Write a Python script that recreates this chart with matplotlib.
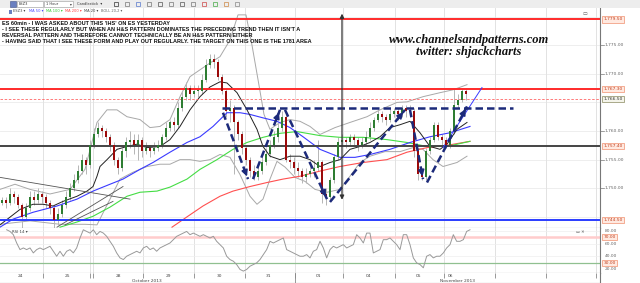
import matplotlib.pyplot as plt
import numpy as np

# ES 60min candles (x = bar index, ~4px per bar)
first_open = 1747.5
closes = [1748.0, 1747.5, 1749.0, 1748.5, 1747.0, 1745.0, 1746.5, 1748.5, 1748.0, 1749.0,
          1748.5, 1747.5, 1746.5, 1744.5, 1745.5, 1747.0, 1748.5, 1750.0, 1751.5, 1753.0,
          1755.0, 1754.0, 1757.5, 1759.5, 1760.5, 1760.0, 1759.0, 1757.5, 1755.0, 1753.5,
          1756.5, 1758.0, 1758.5, 1757.5, 1758.5, 1756.5, 1757.0, 1756.5, 1757.0, 1757.5,
          1759.0, 1760.5, 1761.5, 1761.0, 1764.0, 1766.0, 1767.5, 1766.5, 1767.0, 1767.0,
          1769.0, 1771.5, 1772.5, 1772.0, 1769.5, 1767.0, 1763.5, 1764.0, 1761.5, 1759.5,
          1757.0, 1755.0, 1753.0, 1752.0, 1753.0, 1754.5, 1756.0, 1757.5, 1759.0, 1760.5,
          1762.5, 1755.0, 1754.5, 1753.5, 1753.0, 1752.0, 1752.5, 1753.0, 1753.5, 1754.5,
          1749.0, 1748.5, 1751.5, 1755.5, 1758.0, 1758.5, 1758.0, 1759.0, 1758.5, 1757.5,
          1758.0, 1759.0, 1760.5, 1762.0, 1763.0, 1762.5, 1762.0, 1763.0, 1763.5, 1763.0,
          1764.0, 1763.5, 1763.5, 1756.5, 1752.5, 1752.0, 1756.5, 1758.5, 1761.0, 1759.0,
          1758.5, 1757.5, 1760.0, 1764.5, 1765.5, 1767.0, 1766.5]
highs = [1748.5, 1748.5, 1750.0, 1749.5, 1749.0, 1747.5, 1747.5, 1749.5, 1749.5, 1750.0,
         1749.5, 1749.0, 1748.0, 1747.0, 1746.5, 1748.0, 1749.5, 1751.0, 1752.5, 1754.0,
         1756.0, 1755.5, 1758.5, 1760.5, 1761.5, 1761.0, 1760.5, 1759.5, 1758.0, 1755.5,
         1757.0, 1759.0, 1760.0, 1759.5, 1759.5, 1759.0, 1758.0, 1757.5, 1758.0, 1758.5,
         1759.5, 1761.5, 1762.0, 1762.5, 1765.0, 1767.0, 1768.5, 1768.0, 1768.0, 1768.0,
         1770.0, 1772.5, 1773.5, 1773.5, 1772.5, 1770.0, 1767.5, 1765.5, 1764.5, 1762.0,
         1760.0, 1757.5, 1755.5, 1754.0, 1754.0, 1755.5, 1757.0, 1758.5, 1760.0, 1761.5,
         1763.5, 1763.0, 1756.0, 1755.5, 1754.5, 1753.5, 1753.5, 1754.0, 1755.0, 1758.5,
         1755.0, 1750.0, 1752.0, 1756.0, 1759.0, 1759.5, 1759.0, 1759.5, 1759.5, 1759.0,
         1759.0, 1760.0, 1761.5, 1762.5, 1764.0, 1763.5, 1763.0, 1764.0, 1764.0, 1764.0,
         1764.5, 1764.5, 1764.5, 1764.0, 1757.0, 1753.5, 1757.0, 1759.0, 1761.5, 1761.5,
         1759.5, 1759.0, 1760.5, 1767.5, 1766.5, 1767.5, 1767.5]
lows = [1747.0, 1746.5, 1747.0, 1747.5, 1746.5, 1743.0, 1744.5, 1746.0, 1747.0, 1747.5,
        1747.5, 1746.5, 1745.5, 1743.0, 1743.5, 1745.0, 1746.5, 1748.0, 1749.5, 1751.0,
        1752.5, 1752.5, 1753.5, 1757.0, 1759.0, 1759.0, 1758.0, 1756.5, 1754.0, 1752.5,
        1753.0, 1755.5, 1757.0, 1756.0, 1755.0, 1755.5, 1756.0, 1755.5, 1756.0, 1756.5,
        1757.0, 1758.5, 1760.0, 1760.0, 1760.5, 1763.5, 1765.5, 1765.5, 1766.0, 1766.0,
        1766.5, 1768.5, 1771.0, 1771.0, 1769.0, 1766.5, 1762.5, 1761.5, 1752.5, 1758.5,
        1756.0, 1754.0, 1752.0, 1751.5, 1751.5, 1752.5, 1754.0, 1755.5, 1757.0, 1758.0,
        1760.0, 1754.5, 1753.5, 1752.5, 1752.0, 1751.0, 1751.0, 1752.0, 1752.0, 1753.0,
        1747.5, 1747.0, 1748.0, 1751.0, 1755.0, 1757.5, 1757.0, 1757.5, 1757.5, 1756.5,
        1757.0, 1757.5, 1758.5, 1760.0, 1761.5, 1761.5, 1761.0, 1761.5, 1762.5, 1762.0,
        1762.5, 1762.5, 1762.5, 1755.5, 1751.5, 1751.5, 1751.5, 1756.0, 1758.0, 1758.5,
        1757.5, 1757.0, 1757.0, 1759.5, 1764.0, 1765.0, 1765.5]

# indicator lines sampled off the chart (x in bar units)
ma20_x = [0, 5, 8.25, 10.75, 13.25, 15.75, 19.25, 21.75, 23.25, 24.25, 25, 26.75, 29.25, 31.75,
          34.25, 36.75, 40, 42.5, 45, 47.5, 50, 52.5, 55, 56.75, 59.25, 61.75, 64.25, 65.75,
          67.5, 70, 72.5, 75, 77.5, 80, 82.5, 85, 87.5, 90, 92.5, 95, 97.5, 100, 102.5, 105,
          107.5, 110, 111.75, 114.25, 116.75]
ma20_y = [1743.6, 1746.3, 1747.2, 1747.2, 1746.9, 1747.7, 1748.6, 1749.5, 1750.3, 1752.1, 1753.8,
          1755.0, 1756.8, 1757.3, 1757.7, 1757.1, 1757.3, 1758.5, 1760.8, 1763.7, 1766.0, 1767.7,
          1768.6, 1768.4, 1766.7, 1763.7, 1760.3, 1757.3, 1755.6, 1755.0, 1755.6, 1755.6, 1755.0,
          1753.8, 1754.5, 1755.0, 1756.8, 1757.3, 1758.0, 1759.0, 1760.6, 1761.1, 1761.7, 1759.7,
          1757.3, 1756.8, 1757.7, 1760.3, 1761.5]
ma50_x = [0, 3.25, 8.25, 14.25, 19.25, 23.25, 27.5, 30.75, 35, 38.25, 42.5, 46.75, 50, 53.25,
          55, 56.75, 60, 62.5, 65.75, 69.25, 72.5, 75.75, 80, 85, 88.75, 92.5, 97.5, 102.5,
          107.5, 112.5, 117.5]
ma50_y = [1743.2, 1744.6, 1745.8, 1746.9, 1748.1, 1749.5, 1750.7, 1751.6, 1753.3, 1754.5, 1756.3,
          1758.0, 1759.0, 1760.8, 1762.0, 1763.2, 1763.2, 1762.9, 1762.3, 1761.7, 1760.6, 1759.0,
          1756.8, 1755.4, 1755.4, 1755.9, 1756.8, 1758.0, 1759.0, 1759.7, 1760.8]
ma100_x = [15, 19.25, 23.25, 27.5, 31.75, 35, 39.25, 42.5, 46.75, 50, 54.25, 58.25, 61.75,
           65.75, 70, 74.25, 80, 85, 90.75, 96.75, 101.75, 106.75, 111.75, 117.5]
ma100_y = [1743.2, 1744.1, 1745.1, 1746.7, 1748.6, 1749.3, 1749.5, 1750.2, 1751.6, 1753.3, 1755.0,
           1756.8, 1758.0, 1758.9, 1759.6, 1759.9, 1759.2, 1758.9, 1758.9, 1758.5, 1758.0, 1757.3,
           1757.3, 1758.2]
ma200_x = [43, 46.75, 50.75, 55, 58.25, 62.5, 66.75, 70.75, 75, 80, 85, 90.75, 96.75, 101.75,
           106.75, 111.75, 117.5]
ma200_y = [1743.2, 1745.0, 1746.9, 1748.6, 1749.5, 1750.3, 1751.0, 1751.6, 1752.1, 1753.0, 1753.8,
           1754.5, 1755.0, 1756.3, 1757.1, 1757.5, 1758.2]
bb_up_x = [0, 3.75, 7.5, 12.5, 17.5, 21.25, 24.25, 26.75, 29.25, 31.75, 35, 37.5, 40, 42.5, 45,
           47.5, 50, 52.5, 55, 57.5, 59.5, 61.5, 63, 64.5, 66, 67.5, 70, 72.5, 75, 77.5, 80,
           83.75, 87.5, 91.75, 95, 99.25, 101.75, 105.75, 110, 113.25, 116.75]
bb_up_y = [1749.8, 1750.7, 1749.8, 1749.0, 1749.8, 1753.3, 1761.5, 1763.7, 1763.7, 1762.5, 1762.0,
           1760.6, 1760.8, 1762.0, 1766.0, 1769.5, 1770.7, 1771.9, 1773.0, 1775.9, 1780.3, 1780.3,
           1775.0, 1769.0, 1762.9, 1760.3, 1761.5, 1762.0, 1761.7, 1760.8, 1759.4, 1760.6, 1761.5,
           1762.5, 1763.7, 1765.0, 1765.1, 1766.0, 1766.7, 1767.2, 1768.1]
bb_lo_x = [0, 7.5, 15, 21.25, 24.25, 27.5, 30, 33.25, 36.75, 40, 42.5, 45, 47.5, 50, 52.5, 55,
           57.5, 60, 62.5, 64.25, 65.75, 67.5, 69.25, 71.25, 73.75, 76.25, 78.75, 81.75, 85,
           87.5, 90, 92.5, 96.25, 100, 103.25, 105.75, 108.25, 110.75, 114.25, 116.75]
bb_lo_y = [1743.7, 1744.3, 1743.7, 1743.7, 1743.6, 1748.1, 1751.6, 1752.8, 1753.8, 1754.2, 1754.2,
           1755.0, 1755.0, 1754.7, 1755.0, 1755.9, 1755.4, 1752.4, 1748.6, 1747.2, 1748.1, 1751.6,
           1754.7, 1753.7, 1751.9, 1751.2, 1749.8, 1749.3, 1749.8, 1752.1, 1754.5, 1755.6, 1756.4,
           1756.4, 1757.1, 1756.8, 1755.0, 1753.8, 1754.5, 1755.6]

# RSI 14, one sample every 5/6 bar
rsi = [81.9, 79.3, 74.2, 61.2, 50.8, 53.4, 50.8, 53.4, 45.6, 50.8,
       53.4, 50.8, 53.4, 56.0, 48.2, 40.4, 48.2, 40.4, 48.2, 50.8,
       45.6, 53.4, 69.0, 81.9, 79.3, 76.7, 81.9, 74.2, 79.3, 76.7,
       71.6, 63.8, 56.0, 45.6, 37.8, 35.2, 40.4, 43.0, 45.6, 48.2,
       45.6, 53.4, 56.0, 50.8, 53.4, 48.2, 53.4, 56.0, 58.6, 61.2,
       66.4, 71.6, 74.2, 76.7, 79.3, 74.2, 76.7, 74.2, 71.6, 74.2,
       71.6, 69.0, 71.6, 63.8, 58.6, 53.4, 40.4, 35.2, 32.6, 27.4,
       19.7, 17.1, 19.7, 24.8, 27.4, 30.0, 35.2, 43.0, 50.8, 63.8,
       61.2, 63.8, 66.4, 69.0, 50.8, 48.2, 45.6, 43.0, 40.4, 40.4,
       43.0, 37.8, 48.2, 50.8,
       63.8, 53.4, 37.8, 50.8, 56.0, 53.4, 56.0, 58.6, 53.4, 56.0,
       58.6, 74.2, 69.0, 61.2, 76.7, 76.7, 45.6, 48.2, 50.8, 66.4,
       66.4, 69.0, 63.8, 58.6, 50.8, 74.2, 74.2, 58.6, 37.8, 30.0,
       27.4, 22.3, 40.4, 43.0, 37.8, 40.4, 40.4, 45.6, 53.4, 58.6,
       74.2, 63.8, 63.8, 66.4, 79.3, 81.9]

# horizontal levels
levels = [1779.5, 1767.3, 1757.4, 1744.5]
level_colors = ['#ff2a2a', '#ff2a2a', '#444444', '#2a3cff']
last_price = 1766.5
neckline = 1764.0

# H&S swing arrows: start / end
hs_x0 = [55.75, 63.25, 71.25, 82.5, 102.5, 106.75]
hs_y0 = [1763.2, 1751.6, 1763.7, 1747.6, 1763.7, 1751.0]
hs_x1 = [62.0, 70.0, 81.75, 101.25, 105.75, 116.75]
hs_y1 = [1751.6, 1763.7, 1748.1, 1763.7, 1751.6, 1764.3]

# day separators and labels
day_edges = [10.75, 22.5, 23.25, 35.75, 48.5, 61.25, 73.75, 85.75, 98.75, 111, 123.75, 136.5, 149]
day_labels = ['24', '25', '28', '29', '30', '31', '01', '04', '05', '06']
day_label_x = [5, 16.75, 29.5, 42, 54.75, 67, 79.5, 92, 104.75, 112.5]

W, H = 640, 283
fig = plt.figure(figsize=(6.4, 2.83), dpi=100)
fig.patch.set_facecolor('white')


def fy(y):
    return 1 - y / H


top, mid, bot = 8, 228.3, 272.7
ax = fig.add_axes([0, fy(mid), 600 / W, (mid - top) / H])
rax = fig.add_axes([0, fy(bot), 600 / W, (bot - mid) / H], sharex=ax)
dax = fig.add_axes([0, 0, 600 / W, fy(bot)], sharex=ax)

for a in (ax, rax, dax):
    a.set_xlim(0, 150)
    a.tick_params(left=False, bottom=False, labelleft=False, labelbottom=False,
                  right=False, labelright=False)
    for s in ('left', 'top'):
        a.spines[s].set_visible(False)
    for s in ('right', 'bottom'):
        a.spines[s].set_color('#777777')
        a.spines[s].set_linewidth(0.8)
ax.set_ylim(1743.0, 1781.5)
rax.set_ylim(14.6, 84.2)
dax.set_ylim(0, 1)

# grid
for p in range(1745, 1781, 5):
    ax.axhline(p, color='#ebebeb', lw=0.6, zorder=0)
for a in (ax, rax):
    for e in day_edges:
        a.axvline(e, color='#e2e2e2', lw=0.7, zorder=0)

# candles
x = np.arange(len(closes)) + 0.5
opens = np.array([first_open] + closes[:-1])
c = np.array(closes)
ax.vlines(x, lows, highs, color='#b5b5b5', lw=0.7, zorder=2)
up = c >= opens
body = np.maximum(np.abs(c - opens), 0.15)
ax.bar(x[up], body[up], bottom=np.minimum(opens, c)[up], width=0.45, color='#2e7d32', zorder=3)
ax.bar(x[~up], body[~up], bottom=np.minimum(opens, c)[~up], width=0.45, color='#9b0a0a', zorder=3)

# indicators
ax.plot(bb_up_x, bb_up_y, color='#a8a8a8', lw=0.7, zorder=1)
ax.plot(bb_lo_x, bb_lo_y, color='#a8a8a8', lw=0.7, zorder=1)
ax.plot(ma200_x, ma200_y, color='#ff5050', lw=0.8, zorder=2)
ax.plot(ma100_x, ma100_y, color='#44dd44', lw=0.8, zorder=2)
ax.plot(ma50_x, ma50_y, color='#3a3aff', lw=0.8, zorder=2)
ax.plot(ma20_x, ma20_y, color='#222222', lw=0.7, zorder=2)

# levels
for lv, col in zip(levels, level_colors):
    ax.axhline(lv, color=col, lw=1.4, zorder=2)
ax.axhline(last_price - 0.9, color='#ff6666', lw=0.6, ls=(0, (3, 2)), zorder=2)

# trendlines
ax.plot([0, 32.5], [1751.9, 1748.1], color='#555555', lw=0.6, zorder=2)
ax.plot([14.25, 30.75], [1743.2, 1750.3], color='#555555', lw=0.6, zorder=2)
ax.plot([16.25, 28.25], [1743.6, 1747.7], color='#555555', lw=0.6, zorder=2)
ax.plot([110.75, 120.5], [1757.1, 1767.6], color='#3a3aff', lw=0.7, zorder=2)

# neckline and swing arrows
navy = '#1c2a7a'
ax.plot([55.5, 128.25], [neckline, neckline], color=navy, lw=1.8, ls=(0, (3, 1.6)), zorder=5)
for x0, y0, x1, y1 in zip(hs_x0, hs_y0, hs_x1, hs_y1):
    ax.plot([x0, x1], [y0, y1], color=navy, lw=1.8, ls=(0, (3, 1.6)), zorder=5)
    ax.annotate('', xy=(x1, y1), xytext=(x1 - 0.15 * (x1 - x0), y1 - 0.15 * (y1 - y0)),
                arrowprops=dict(arrowstyle='-|>', color=navy, lw=1.2, mutation_scale=9),
                zorder=6)

# target arrow
ax.annotate('', xy=(85.5, 1781.0), xytext=(85.5, 1747.5),
            arrowprops=dict(arrowstyle='<|-|>', color='#333333', lw=0.9, mutation_scale=6),
            zorder=6)

# right axis labels
ylab = ax.get_yaxis_transform()
for p in [1775, 1770, 1760, 1755, 1750]:
    ax.text(1.008, p, f'{p:,.2f}', transform=ylab, fontsize=3.2, color='#666666',
            va='center', ha='left', clip_on=False)
    ax.plot([1.0, 1.006], [p, p], transform=ylab, color='#777777', lw=0.5, clip_on=False)
for lv, ypos in zip(levels, [1779.5, 1767.3, 1757.4, 1744.5]):
    ax.text(1.006, ypos, f'{lv:,.2f}', transform=ylab, fontsize=3.2, color='#c04020',
            va='center', ha='left', clip_on=False,
            bbox=dict(boxstyle='square,pad=0.25', fc='#ffe9e0', ec='#f09070', lw=0.5))
ax.text(1.006, last_price - 0.9, f'{last_price:,.2f}', transform=ylab, fontsize=3.2,
        color='#333333', va='center', ha='left', clip_on=False,
        bbox=dict(boxstyle='square,pad=0.25', fc='#f4f4ea', ec='#8a8a60', lw=0.5))

# RSI
rx = (20 + 10 * np.arange(len(rsi))) / 12
rax.axhline(70, color='#ffcccc', lw=1.8, zorder=1)
rax.axhline(30, color='#90c090', lw=0.9, zorder=1)
for v in (40, 60, 80):
    rax.axhline(v, color='#eeeeee', lw=0.5, zorder=0)
rax.plot(rx, rsi, color='#999999', lw=0.7, zorder=2)
rylab = rax.get_yaxis_transform()
for v in [80, 60, 40, 20]:
    rax.text(1.008, v, f'{v:.2f}', transform=rylab, fontsize=3.2, color='#666666',
             va='center', ha='left', clip_on=False)
for v in [70, 30]:
    rax.text(1.006, v, f'{v:.2f}', transform=rylab, fontsize=3.2, color='#c04020',
             va='center', ha='left', clip_on=False,
             bbox=dict(boxstyle='square,pad=0.25', fc='#ffe9e0', ec='#f09070', lw=0.5))
rax.text(0.02, 0.96, 'RSI 14 \u25be', transform=rax.transAxes, fontsize=2.8, color='#444444',
         va='top', ha='left')
rax.text(0.975, 0.96, '\u25ad \u2715', transform=rax.transAxes, fontsize=3, color='#555555',
         va='top', ha='right')
ax.text(0.978, 0.985, '\u25ad', transform=ax.transAxes, fontsize=3.5, color='#555555',
        va='top', ha='right')

# date axis
dax.vlines(day_edges, 0.45, 1, color='#888888', lw=0.6)
dax.axvline(73.75, color='#888888', lw=0.6)
for lab, lx in zip(day_labels, day_label_x):
    dax.text(lx, 0.7, lab, fontsize=3.2, color='#444444', ha='center', va='center')
dax.text(36.75, 0.2, 'October 2013', fontsize=3.2, color='#444444', ha='center', va='center')
dax.text(114.25, 0.2, 'November 2013', fontsize=3.2, color='#444444', ha='center', va='center')

# toolbar strip
tb = fig.add_axes([0, fy(8), 1, 8 / H])
tb.set_xlim(0, W)
tb.set_ylim(8, 0)
tb.axis('off')
tb.add_patch(plt.Rectangle((0, 0), W, 8, fc='#ededed', ec='none'))
tb.add_patch(plt.Rectangle((10, 1), 6, 6, fc='#6a7fc0', ec='#445588', lw=0.4))
tb.add_patch(plt.Rectangle((17, 1), 26, 6, fc='white', ec='#999999', lw=0.4))
tb.text(19, 4, 'ESZ3', fontsize=2.6, va='center', color='#333333')
tb.add_patch(plt.Rectangle((44, 1), 29, 6, fc='white', ec='#999999', lw=0.4))
tb.text(46, 4, '1 Hour', fontsize=2.6, va='center', color='#333333')
tb.text(70, 4, '\u25be', fontsize=2.6, va='center', color='#333333')
tb.text(77, 4, 'Candlestick  \u25be', fontsize=2.6, va='center', color='#333333')
for ix, col in zip(range(114, 246, 11), ['#333333', '#777777', '#5577cc', '#777777', '#555555',
                                         '#777777', '#555555', '#777777', '#cc4444', '#44aa44',
                                         '#cc8844', '#888888']):
    tb.add_patch(plt.Rectangle((ix, 2), 3.5, 4, fc='none', ec=col, lw=0.5))

# legend row
leg = [('ESZ3 \u25be', 13, '#444444'), ('MA 50 \u25be', 29, '#4a4aff'),
       ('MA 100 \u25be', 46, '#33cc33'), ('MA 200 \u25be', 65, '#ff4444'),
       ('MA 20 \u25be', 84, '#444444'), ('BOLL 20,2 \u25be', 101, '#666666')]
fig.patches.append(plt.Rectangle((9 / W, fy(14)), 3 / W, 4 / H, fc='#6a7fc0', ec='none',
                                 transform=fig.transFigure))
for t, px, col in leg:
    fig.text(px / W, fy(11.5), t, fontsize=2.6, color=col, va='center', ha='left')

# comment block
note = ["ES 60min - I WAS ASKED ABOUT THIS 'IHS' ON ES YESTERDAY",
        "- I SEE THESE REGULARLY BUT WHEN AN H&S PATTERN DOMINATES THE PRECEDING TREND THEN IT ISN'T A",
        "REVERSAL PATTERN AND THEREFORE CANNOT TECHNICALLY BE AN H&S PATTERN EITHER",
        "- HAVING SAID THAT I SEE THESE FORM AND PLAY OUT REGULARLY. THE TARGET ON THIS ONE IS THE 1781 AREA"]
for i, line in enumerate(note):
    fig.text(2 / W, fy(23.3 + 6.2 * i), line, fontsize=3.95, fontweight='bold', color='#111111',
             family=['Liberation Sans Narrow', 'Liberation Sans', 'DejaVu Sans'],
             va='center', ha='left')

fig.text(469 / W, fy(40), 'www.channelsandpatterns.com', fontsize=9, style='italic',
         fontweight='bold', family=['Liberation Serif', 'DejaVu Serif'], ha='center',
         va='center', color='#111111')
fig.text(469 / W, fy(52), 'twitter: shjackcharts', fontsize=9, style='italic',
         fontweight='bold', family=['Liberation Serif', 'DejaVu Serif'], ha='center',
         va='center', color='#111111')

fig.savefig('out.png', dpi=100)
